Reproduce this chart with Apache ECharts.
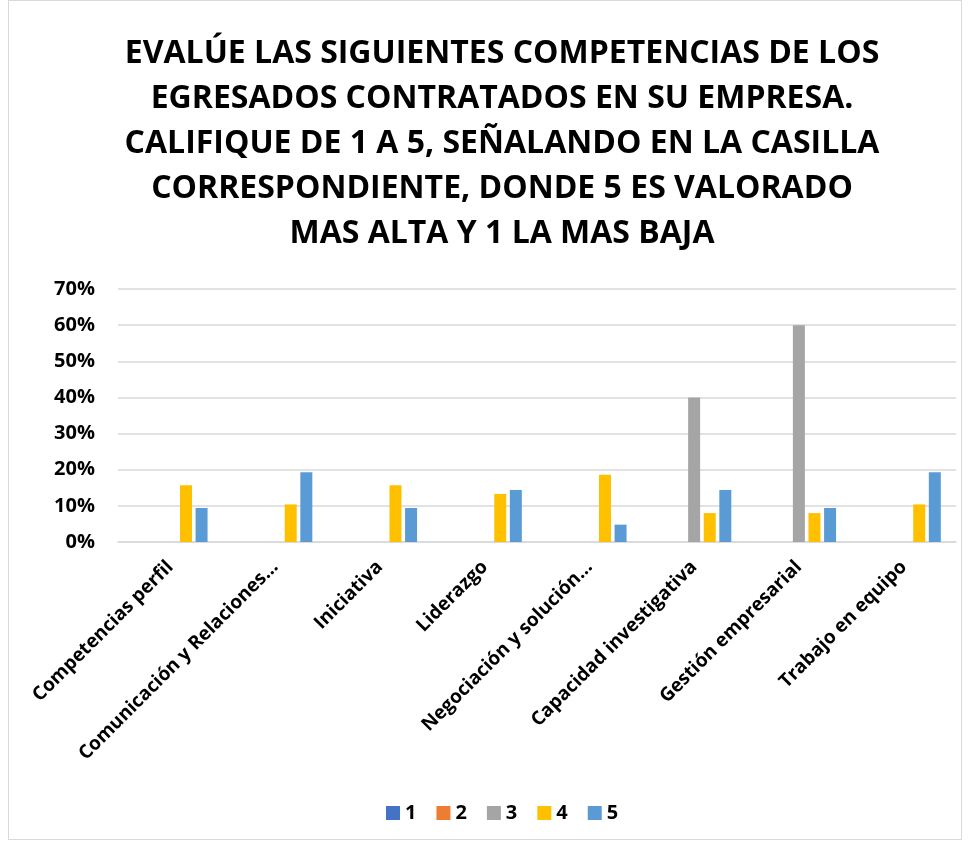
<!DOCTYPE html>
<html>
<head>
<meta charset="utf-8">
<script src="https://cdn.jsdelivr.net/npm/echarts@6/dist/echarts.min.js"></script>
<style>
  html, body { margin: 0; padding: 0; background: #fff; }
  #chart { position: absolute; left: 8px; top: 0; width: 954px; height: 840px; border: 1px solid #d9d9d9; box-sizing: border-box; }
</style>
</head>
<body>
<div id="chart"></div>
<script>
// datos del gráfico
var categorias = ['Competencias perfil', 'Comunicación y Relaciones…', 'Iniciativa', 'Liderazgo',
  'Negociación y solución…', 'Capacidad investigativa', 'Gestión empresarial', 'Trabajo en equipo'];
var serie1 = [0, 0, 0, 0, 0, 0, 0, 0];
var serie2 = [0, 0, 0, 0, 0, 0, 0, 0];
var serie3 = [0, 0, 0, 0, 0, 0.40, 0.60, 0];
var serie4 = [0.157, 0.104, 0.157, 0.133, 0.186, 0.08, 0.08, 0.104];
var serie5 = [0.094, 0.193, 0.094, 0.144, 0.048, 0.144, 0.094, 0.193];
var nombres = ['1', '2', '3', '4', '5'];
var colores = ['#4472C4', '#ED7D31', '#A5A5A5', '#FFC000', '#5B9BD5'];

var titulo = 'EVALÚE LAS SIGUIENTES COMPETENCIAS DE LOS\nEGRESADOS CONTRATADOS EN SU EMPRESA.\n' +
  'CALIFIQUE DE 1 A 5, SEÑALANDO EN LA CASILLA\nCORRESPONDIENTE, DONDE 5 ES VALORADO\nMAS ALTA Y 1 LA MAS BAJA';

var fuente = 'Open Sans';
var datos = [serie1, serie2, serie3, serie4, serie5];

var myChart = echarts.init(document.getElementById('chart'));

var series = datos.map(function (d, i) {
  return {
    name: nombres[i],
    type: 'bar',
    data: d,
    barWidth: 12,
    barGap: '30%',
    itemStyle: { color: colores[i] },
    emphasis: { disabled: true }
  };
});

var option = {
  animation: false,
  color: colores,
  title: {
    text: titulo,
    left: 488,
    textAlign: 'center',
    top: 25,
    textStyle: {
      fontFamily: fuente,
      fontWeight: 'bold',
      fontSize: 32,
      lineHeight: 45,
      color: '#000'
    }
  },
  legend: {
    data: nombres,
    bottom: 11,
    left: 372,
    itemWidth: 14,
    itemHeight: 14,
    itemGap: 20,
    icon: 'rect',
    textStyle: { fontFamily: fuente, fontWeight: 'bold', fontSize: 20, color: '#000' }
  },
  grid: { left: 109, right: 5, top: 288, bottom: 297, containLabel: false },
  xAxis: {
    type: 'category',
    data: categorias,
    axisLine: { lineStyle: { color: '#d9d9d9', width: 1.5 } },
    axisTick: { show: false },
    axisLabel: {
      interval: 0,
      rotate: 45,
      margin: 22,
      fontFamily: fuente,
      fontWeight: 'bold',
      fontSize: 19,
      color: '#000'
    }
  },
  yAxis: {
    type: 'value',
    min: 0,
    max: 0.7,
    interval: 0.1,
    axisLine: { show: false },
    axisTick: { show: false },
    splitLine: { lineStyle: { color: '#d9d9d9', width: 1.5 } },
    axisLabel: {
      margin: 23,
      fontFamily: fuente,
      fontWeight: 'bold',
      fontSize: 20,
      color: '#000',
      formatter: function (v) { return Math.round(v * 100) + '%'; }
    }
  },
  series: series
};

myChart.setOption(option);
</script>
</body>
</html>
